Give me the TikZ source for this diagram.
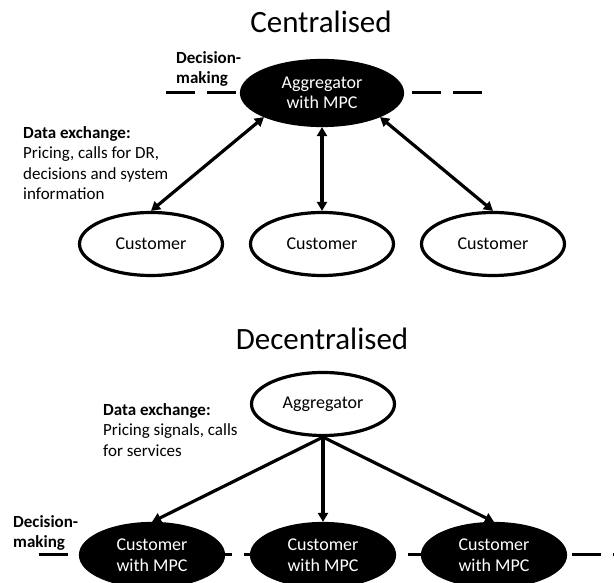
\documentclass[tikz,border=0pt]{standalone}
\usepackage{fontspec}
\setmainfont{Carlito}
\usetikzlibrary{arrows.meta,shapes.geometric,positioning}

\tikzset{
  blob/.style={ellipse,draw=black,line width=3.2pt,inner sep=0pt,
    minimum width=143pt,minimum height=63pt,align=center,
    font=\fontsize{18}{20.5}\selectfont},
  mpc/.style={blob,fill=black,text=white},
  link/.style={line width=3.2pt,
    {Triangle[length=9pt,width=10pt]}-{Triangle[length=9pt,width=10pt]}},
  feed/.style={line width=3.2pt,-{Triangle[length=9pt,width=10pt]}},
  layer/.style={line width=3pt,dash pattern=on 29pt off 12pt},
  note/.style={align=left,inner sep=0pt,anchor=north west,
    font=\fontsize{17}{20.5}\selectfont},
  heading/.style={anchor=base,font=\fontsize{31}{36}\selectfont},
}

\begin{document}
\begin{tikzpicture}[x=1pt,y=1pt]
\clip (0,0) rectangle (614,583);
\fill[white] (0,0) rectangle (614,583);
% centralised
\node[heading] (ctitle) at (321,550) {Centralised};
\coordinate (top) at (322,490);
\draw[layer] ([xshift=-156pt]top) -- ([xshift=160pt]top);
\node[mpc,minimum width=161pt,minimum height=65pt] (agg) at (top) {Aggregator\\with MPC};
\node[note] (cdec) at (176,532) {\textbf{Decision-}\\\textbf{making}};
\node[note] (cdata) at (23,457) {\textbf{Data exchange:}\\Pricing, calls for DR,\\decisions and system\\information};
\node[blob] (c1) at (151,339) {Customer};
\node[blob] (c2) at (322,339) {Customer};
\node[blob] (c3) at (493,339) {Customer};
\draw[link] (agg.south west) -- (c1.north);
\draw[link] (agg.south) -- (c2.north);
\draw[link] (agg.south east) -- (c3.north);
% decentralised
\node[heading] (dtitle) at (322,233) {Decentralised};
\node[blob] (agg2) at (323,179) {Aggregator};
\node[note] (ddata) at (103,180) {\textbf{Data exchange:}\\Pricing signals, calls\\for services};
\node[note] (ddec) at (13,68) {\textbf{Decision-}\\\textbf{making}};
\coordinate (bottom) at (39,28);
\draw[layer] (bottom) -- ++(600,0);
\node[mpc] (d1) at (152,28) {Customer\\with MPC};
\node[mpc] (d2) at (323,28) {Customer\\with MPC};
\node[mpc] (d3) at (494,28) {Customer\\with MPC};
\draw[feed] (agg2.south) -- (d1.north);
\draw[feed] (agg2.south) -- (d2.north);
\draw[feed] (agg2.south) -- (d3.north);
\end{tikzpicture}
\end{document}
